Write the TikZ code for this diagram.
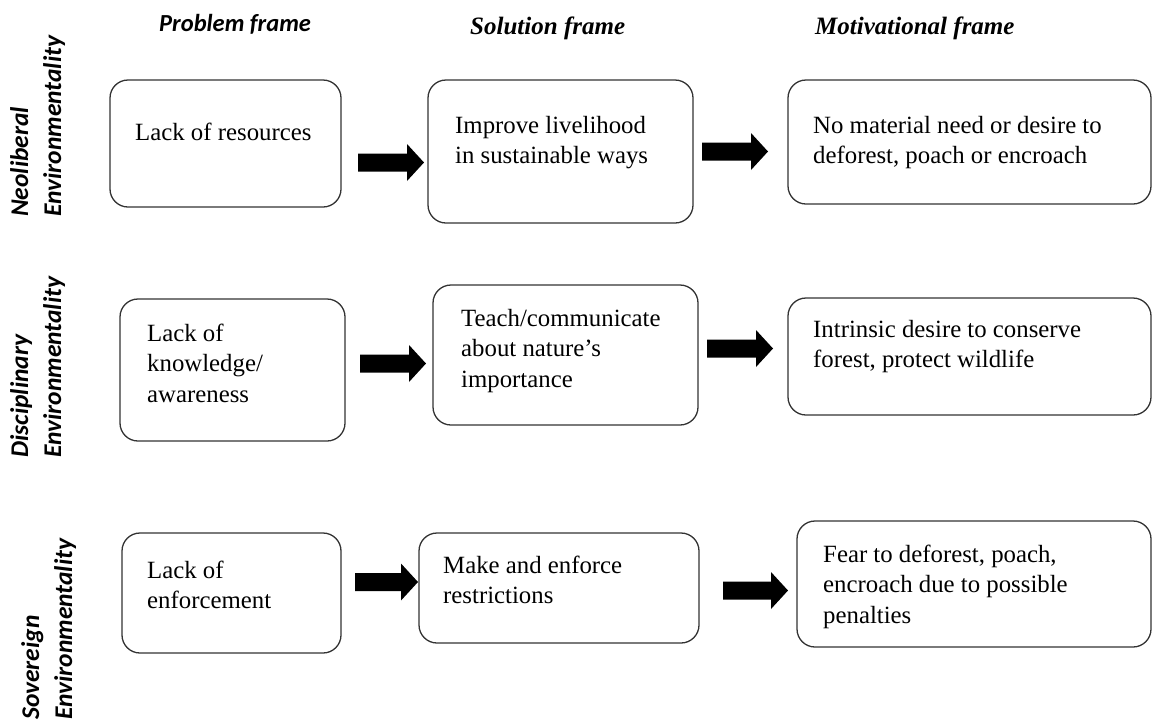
\documentclass[tikz,border=0pt]{standalone}
\usepackage{fontspec}
\setmainfont{Liberation Serif}
\newfontfamily\labfont{Carlito}
\usetikzlibrary{calc}
\newcommand\textlines[1]{\begin{tabular}[t]{@{}l@{}}#1\end{tabular}}
\newcommand\blockarr[2]{\fill[black] ($(#1)+(0,-9)$) -- ($(#2)+(-17,-9)$) -- ($(#2)+(-17,-18.5)$) -- (#2) -- ($(#2)+(-17,18.5)$) -- ($(#2)+(-17,9)$) -- ($(#1)+(0,9)$) -- cycle;}
\begin{document}
\begin{tikzpicture}[x=1pt,y=-1pt,
  box/.style={draw=black!80, line width=1.3pt, rounded corners=18pt, fill=white, inner sep=0pt, outer sep=0pt, anchor=north west},
  body/.style={anchor=base west, inner sep=0pt, font=\fontsize{24.8}{30.5}\selectfont},
  rowlab/.style={anchor=base west, rotate=90, inner sep=0pt, font=\labfont\bfseries\itshape\fontsize{25.5}{33}\selectfont},
  headsans/.style={anchor=base west, inner sep=0pt, font=\labfont\bfseries\itshape\fontsize{24.5}{28}\selectfont},
  headserif/.style={anchor=base west, inner sep=0pt, font=\bfseries\itshape\fontsize{25}{28}\selectfont}]
\fill[white] (0,0) rectangle (1153,724);
\useasboundingbox (0,0) rectangle (1153,724);

% headers
\node[headsans] (hp) at (159,31) {Problem frame};
\node[headserif] (hs) at (470,34) {Solution frame};
\node[headserif] (hm) at (815,34) {Motivational frame};

% row labels
\node[rowlab] (r1) at (28,217) {\textlines{Neoliberal\\Environmentality}};
\node[rowlab] (r2) at (28,458) {\textlines{Disciplinary\\Environmentality}};
\node[rowlab] (r3) at (39,720) {\textlines{Sovereign\\Environmentality}};

% boxes
\node[box, minimum width=231pt, minimum height=127pt] (a1) at (110,80) {};
\node[box, minimum width=265pt, minimum height=143pt] (b1) at (428,80) {};
\node[box, minimum width=363pt, minimum height=124pt] (c1) at (788,80) {};
\node[box, minimum width=225pt, minimum height=142pt] (a2) at (120,299) {};
\node[box, minimum width=265pt, minimum height=140pt] (b2) at (433,285) {};
\node[box, minimum width=363pt, minimum height=117pt] (c2) at (788,298) {};
\node[box, minimum width=219pt, minimum height=120pt] (a3) at (122,533) {};
\node[box, minimum width=280pt, minimum height=110pt] (b3) at (419,533) {};
\node[box, minimum width=354pt, minimum height=126pt] (c3) at (797,521) {};

% texts
\node[body] (a1t) at (135,140) {Lack of resources};
\node[body] (b1t) at (455,133) {\textlines{Improve livelihood\\in sustainable ways}};
\node[body] (c1t) at (813,133) {\textlines{No material need or desire to\\deforest, poach or encroach}};
\node[body] (a2t) at (147,341) {\textlines{Lack of\\knowledge/\\awareness}};
\node[body] (b2t) at (461,326) {\textlines{Teach/communicate\\about nature’s\\importance}};
\node[body] (c2t) at (813,337) {\textlines{Intrinsic desire to conserve\\forest, protect wildlife}};
\node[body] (a3t) at (147,578) {\textlines{Lack of\\enforcement}};
\node[body] (b3t) at (443,573) {\textlines{Make and enforce\\restrictions}};
\node[body] (c3t) at (823,562) {\textlines{Fear to deforest, poach,\\encroach due to possible\\penalties}};

% arrows
\coordinate (s1a) at (358,162.5); \coordinate (e1a) at (424,162.5);
\coordinate (s1b) at (702,151.5); \coordinate (e1b) at (768,151.5);
\coordinate (s2a) at (360,363.5); \coordinate (e2a) at (426,363.5);
\coordinate (s2b) at (707,348.5); \coordinate (e2b) at (773,348.5);
\coordinate (s3a) at (355,582);   \coordinate (e3a) at (418,582);
\coordinate (s3b) at (723,590.5); \coordinate (e3b) at (788,590.5);
\blockarr{s1a}{e1a}
\blockarr{s1b}{e1b}
\blockarr{s2a}{e2a}
\blockarr{s2b}{e2b}
\blockarr{s3a}{e3a}
\blockarr{s3b}{e3b}
\end{tikzpicture}
\end{document}
